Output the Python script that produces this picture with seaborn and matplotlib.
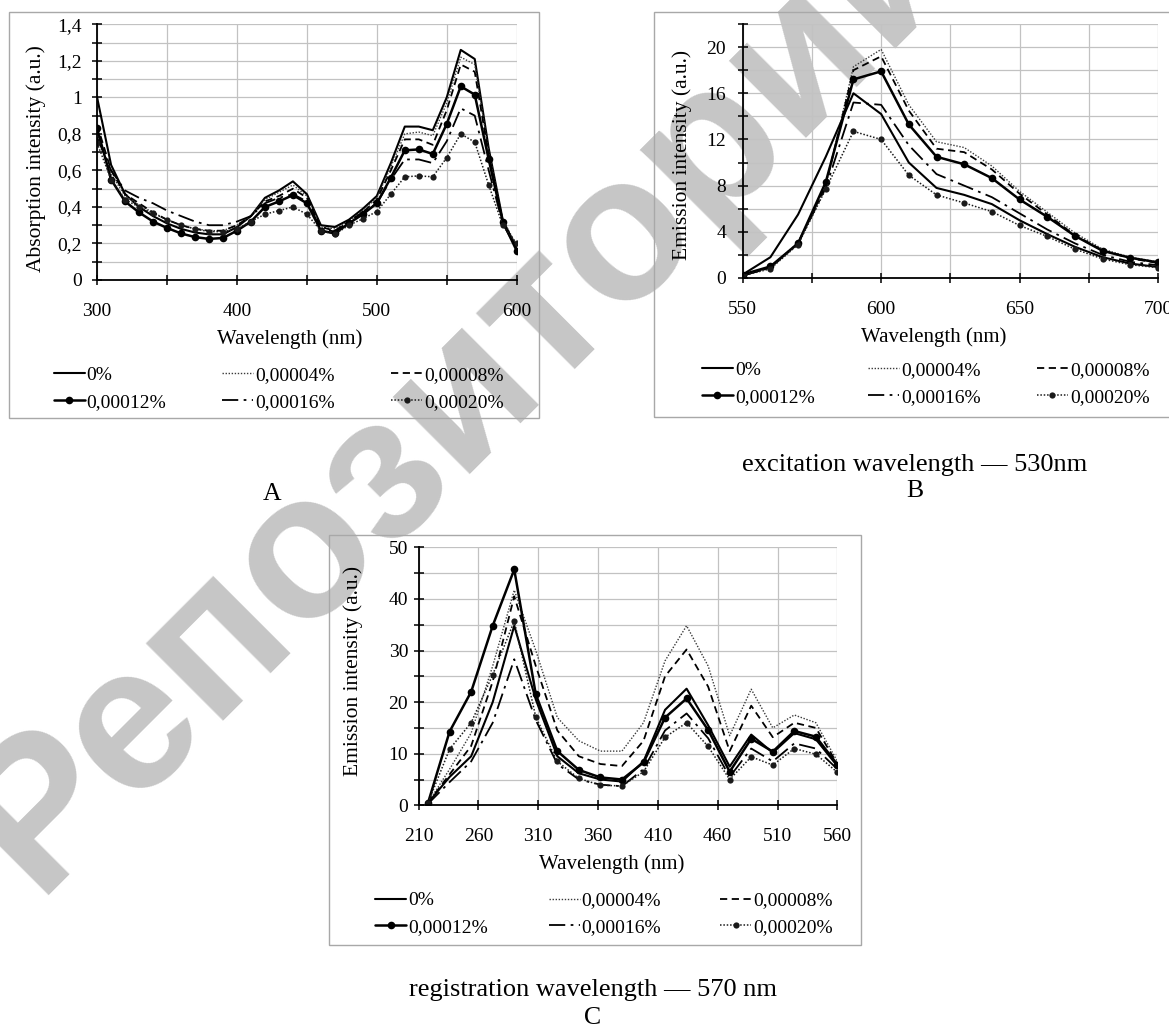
import numpy as np
import matplotlib
matplotlib.use("Agg")
import matplotlib.pyplot as plt
import seaborn as sns
from matplotlib.lines import Line2D
from matplotlib.patches import Rectangle

# ---------------- data ----------------
labels = ['0%', '0,00004%', '0,00008%', '0,00012%', '0,00016%', '0,00020%']

# Panel A: absorption, 300-600 nm step 10
xA = list(range(300, 601, 10))
A_0 = [1.00, 0.63, 0.47, 0.40, 0.35, 0.31, 0.28, 0.26, 0.25, 0.25, 0.29, 0.35, 0.45, 0.49, 0.54, 0.47,
       0.30, 0.29, 0.33, 0.39, 0.46, 0.64, 0.84, 0.84, 0.82, 1.00, 1.26, 1.21, 0.72, 0.33, 0.17]
A_04 = [0.80, 0.58, 0.46, 0.41, 0.37, 0.33, 0.30, 0.28, 0.27, 0.27, 0.30, 0.35, 0.44, 0.48, 0.52, 0.46,
        0.29, 0.28, 0.32, 0.38, 0.45, 0.62, 0.80, 0.81, 0.79, 0.97, 1.22, 1.18, 0.70, 0.33, 0.19]
A_08 = [0.85, 0.60, 0.47, 0.42, 0.37, 0.33, 0.30, 0.28, 0.27, 0.27, 0.30, 0.35, 0.43, 0.46, 0.50, 0.45,
        0.29, 0.27, 0.32, 0.37, 0.44, 0.60, 0.77, 0.77, 0.74, 0.93, 1.18, 1.14, 0.68, 0.32, 0.18]
A_12 = [0.83, 0.55, 0.43, 0.37, 0.32, 0.285, 0.255, 0.235, 0.225, 0.23, 0.27, 0.32, 0.40, 0.43, 0.465, 0.42,
        0.27, 0.255, 0.31, 0.36, 0.42, 0.56, 0.71, 0.715, 0.69, 0.855, 1.06, 1.015, 0.66, 0.32, 0.16]
A_16 = [0.78, 0.60, 0.49, 0.45, 0.42, 0.38, 0.35, 0.32, 0.30, 0.30, 0.32, 0.35, 0.42, 0.45, 0.47, 0.43,
        0.28, 0.265, 0.32, 0.37, 0.42, 0.55, 0.66, 0.66, 0.64, 0.76, 0.94, 0.90, 0.60, 0.31, 0.17]
A_20 = [0.75, 0.55, 0.44, 0.40, 0.365, 0.33, 0.30, 0.28, 0.265, 0.265, 0.28, 0.32, 0.36, 0.38, 0.40, 0.36,
        0.27, 0.25, 0.30, 0.335, 0.375, 0.47, 0.565, 0.57, 0.565, 0.67, 0.80, 0.755, 0.52, 0.30, 0.20]

# Panel B: emission, excitation 530 nm, 550-700 nm step 10
xB = list(range(550, 701, 10))
B_0 = [0.3, 1.8, 5.5, 10.5, 16.0, 14.2, 10.0, 7.8, 7.2, 6.4, 5.0, 3.8, 2.7, 1.8, 1.25, 0.95]
B_04 = [0.2, 0.9, 3.1, 8.0, 18.3, 19.8, 15.0, 11.8, 11.3, 9.7, 7.5, 5.7, 3.9, 2.5, 1.8, 1.4]
B_08 = [0.2, 0.9, 3.0, 8.0, 18.0, 19.2, 14.5, 11.2, 10.9, 9.4, 7.3, 5.5, 3.7, 2.4, 1.7, 1.3]
B_12 = [0.3, 1.0, 3.0, 8.3, 17.2, 17.9, 13.3, 10.5, 9.85, 8.65, 6.8, 5.3, 3.65, 2.35, 1.75, 1.35]
B_16 = [0.2, 0.9, 3.0, 7.8, 15.2, 15.0, 11.5, 9.0, 8.0, 7.0, 5.6, 4.2, 3.0, 2.0, 1.4, 1.1]
B_20 = [0.2, 0.8, 2.9, 7.7, 12.7, 12.0, 8.9, 7.2, 6.5, 5.75, 4.55, 3.6, 2.5, 1.65, 1.15, 0.9]

# Panel C: excitation spectra, registration 570 nm
xC = [218, 236, 254, 272, 290, 308, 326, 344, 362, 380, 398, 416, 434, 452, 470, 488, 506, 524, 542, 560]
C_0 = [0.5, 5.5, 9.5, 20.0, 34.8, 20.5, 9.5, 6.2, 5.0, 4.6, 8.5, 18.5, 22.6, 15.5, 7.5, 13.7, 10.2, 14.0, 12.8, 7.6]
C_04 = [0.5, 7.0, 14.0, 27.0, 41.7, 30.0, 17.0, 12.5, 10.5, 10.5, 16.0, 28.0, 34.8, 27.0, 13.5, 22.5, 15.0, 17.5, 16.0, 8.5]
C_08 = [0.5, 6.0, 11.5, 24.0, 40.5, 27.0, 14.5, 9.5, 8.0, 7.6, 12.5, 25.0, 30.2, 23.0, 10.5, 19.3, 13.2, 16.0, 15.0, 8.0]
C_12 = [0.5, 14.3, 22.0, 34.8, 45.7, 21.5, 10.5, 6.85, 5.4, 5.0, 8.3, 17.0, 20.7, 14.6, 6.5, 12.9, 10.4, 14.4, 13.3, 7.9]
C_16 = [0.3, 4.5, 8.5, 16.0, 28.3, 16.5, 8.0, 5.0, 4.0, 3.7, 7.0, 14.5, 17.8, 13.0, 5.5, 11.0, 8.5, 12.0, 11.0, 7.0]
C_20 = [0.5, 10.9, 16.0, 25.3, 35.7, 17.1, 8.5, 5.2, 3.9, 3.75, 6.5, 13.2, 16.0, 11.4, 5.0, 9.4, 7.8, 11.0, 9.9, 6.4]

# ---------------- style ----------------
sns.set_theme(style="white")
plt.rcParams['font.family'] = ['Liberation Serif', 'DejaVu Serif']
plt.rcParams['axes.unicode_minus'] = False

W, H = 1169, 1028
fig = plt.figure(figsize=(W / 100, H / 100), dpi=100)
fig.patch.set_facecolor('white')


def fx(px):
    return px / W


def fy(py):
    return 1 - py / H


styles = [
    dict(linestyle='-', linewidth=1.5, color='black'),
    dict(linestyle=(0, (1, 1.2)), linewidth=1.0, color='#3a3a3a'),
    dict(linestyle=(0, (4, 2.5)), linewidth=1.3, color='black'),
    dict(linestyle='-', linewidth=1.8, color='black', marker='o', markersize=5.5, markeredgewidth=0),
    dict(linestyle=(0, (9, 3, 1.5, 3)), linewidth=1.3, color='black'),
    dict(linestyle=(0, (1, 1.2)), linewidth=1.1, color='#1a1a1a', marker='o', markersize=4.5, markeredgewidth=0),
]

# watermark (behind the charts)
fig.text(fx(40), fy(905), 'Репозиторий БГУИР', rotation=45, rotation_mode='anchor',
         ha='left', va='baseline', fontsize=148, fontweight='bold',
         family=['Liberation Sans', 'DejaVu Sans'], color='#c6c6c6', zorder=-5)

# panel frames
for (x0, y0, x1, y1) in [(8.9, 12.3, 539.3, 418.3), (654, 12.3, 1180, 416.7), (329, 535, 861, 945)]:
    fig.patches.append(Rectangle((fx(x0), fy(y1)), fx(x1) - fx(x0), fy(y0) - fy(y1),
                                 transform=fig.transFigure, fill=False, ec='#a8a8a8', lw=1.0, zorder=1))


def fmt(v):
    s = f"{v:g}"
    return s.replace('.', ',')


def make_axes(rect_px, xlim, ylim, xticks, xlab_every, yticks, ylab_every, ylabel, ypad, ylab_x, ylab_y):
    x0, y0, x1, y1 = rect_px
    ax = fig.add_axes([fx(x0), fy(y1), fx(x1) - fx(x0), fy(y0) - fy(y1)])
    ax.set_facecolor('none')
    ax.set_xlim(*xlim)
    ax.set_ylim(*ylim)
    ax.set_xticks(xticks)
    ax.set_xticklabels([str(int(v)) if (i % xlab_every == 0) else '' for i, v in enumerate(xticks)])
    ax.set_yticks(yticks)
    ax.set_yticklabels([fmt(v) if (i % ylab_every == 0) else '' for i, v in enumerate(yticks)])
    ax.grid(True, color='#c2c2c2', linewidth=0.9)
    ax.set_axisbelow(True)
    for s in ['top', 'right']:
        ax.spines[s].set_visible(False)
    for s in ['left', 'bottom']:
        ax.spines[s].set_color('black')
        ax.spines[s].set_linewidth(1.3)
        ax.spines[s].set_zorder(2.5)
    ax.tick_params(axis='both', direction='inout', length=7, width=1.1, color='black',
                   labelsize=14, labelcolor='black', left=True, bottom=True)
    ax.tick_params(axis='x', pad=13)
    ax.tick_params(axis='y', pad=ypad)
    ax.set_xlabel('Wavelength (nm)', fontsize=15, color='black')
    ax.xaxis.label.set_va('center')
    ax.xaxis.set_label_coords(0.46, -59 / (y1 - y0))
    ax.set_ylabel(ylabel, fontsize=15.5, color='black')
    ax.yaxis.label.set_va('center')
    ax.yaxis.set_label_coords(ylab_x, ylab_y)
    return ax


def draw(ax, x, series):
    for y, st in zip(series, styles):
        sns.lineplot(x=x, y=y, ax=ax, errorbar=None, sort=False, **st)


def legend(cols_px, row_center_px):
    handles = [Line2D([], [], **st) for st in styles]
    order = [[0, 3], [1, 4], [2, 5]]
    for cx, idx in zip(cols_px, order):
        lg = fig.legend([handles[i] for i in idx], [labels[i] for i in idx],
                        loc='center left', bbox_to_anchor=(fx(cx), fy(row_center_px)),
                        bbox_transform=fig.transFigure, frameon=False, fontsize=14,
                        handlelength=1.6, handletextpad=0.1, borderpad=0, borderaxespad=0,
                        labelspacing=0.48, numpoints=1)
        for t in lg.get_texts():
            t.set_color('black')


# ---- Panel A ----
axA = make_axes((97.1, 24.3, 516.7, 280.0), (300, 600), (0, 1.4),
                list(range(300, 601, 50)), 2, list(np.round(np.arange(0, 1.41, 0.1), 1)), 2,
                'Absorption intensity (a.u.)', 7.5, (35.7 - 97.1) / 419.6, 0.473)
draw(axA, xA, [A_0, A_04, A_08, A_12, A_16, A_20])
legend([53.6, 222, 391], 388.5)

# ---- Panel B ----
axB = make_axes((742.7, 24.0, 1158.0, 278.0), (550, 700), (0, 22),
                list(range(550, 701, 25)), 2, list(range(0, 23, 2)), 2,
                'Emission intensity (a.u.)', 8.5, (681.7 - 742.7) / 415.3, 0.484)
draw(axB, xB, [B_0, B_04, B_08, B_12, B_16, B_20])
legend([701.7, 868, 1036.7], 383.7)

# ---- Panel C ----
axC = make_axes((418.5, 547.3, 837.4, 805.3), (210, 560), (0, 50),
                list(range(210, 561, 50)), 1, list(range(0, 51, 5)), 2,
                'Emission intensity (a.u.)', 4, (353.6 - 418.5) / 418.9, 0.52)
draw(axC, xC, [C_0, C_04, C_08, C_12, C_16, C_20])
legend([375, 548.6, 720], 914)

# captions
fig.text(fx(272), fy(494), 'A', ha='center', va='center', fontsize=18.5, color='black')
fig.text(fx(915), fy(465), 'excitation wavelength \u2014 530nm', ha='center', va='center', fontsize=19, color='black')
fig.text(fx(915), fy(491), 'B', ha='center', va='center', fontsize=18.5, color='black')
fig.text(fx(593), fy(990), 'registration wavelength \u2014 570 nm', ha='center', va='center', fontsize=19, color='black')
fig.text(fx(593), fy(1018), 'C', ha='center', va='center', fontsize=18.5, color='black')

fig.savefig('out.png', dpi=100, facecolor='white')
